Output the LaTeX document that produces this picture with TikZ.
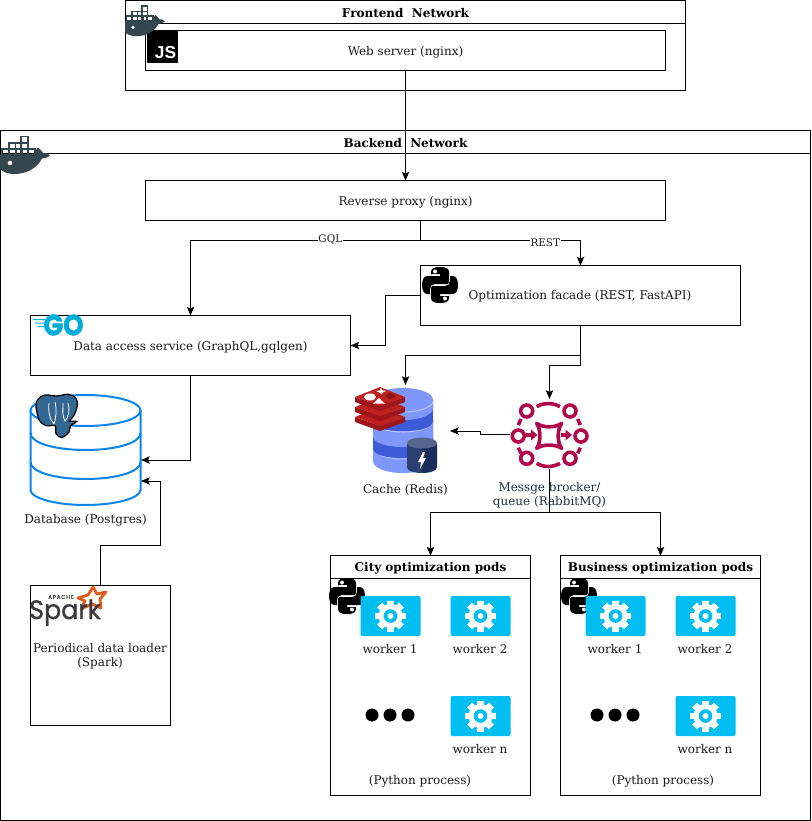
\documentclass[tikz,border=0pt]{standalone}
\usepackage{fontspec}
\setmainfont{DejaVu Serif}
\newfontfamily\logofont[FakeBold=1.1]{Poppins}
\newfontfamily\gofont[FakeBold=1.6]{Poppins}
\newfontfamily\jsfont{Liberation Sans}
\usetikzlibrary{arrows.meta,calc}
\definecolor{whale}{HTML}{34464E}
\definecolor{tile}{HTML}{00BEF2}
\definecolor{rabbit}{HTML}{B0084D}
\definecolor{dbblue}{HTML}{0A84E8}
\definecolor{pg}{HTML}{336791}
\definecolor{gocyan}{HTML}{00ADD8}
\definecolor{peri}{HTML}{7E97FA}
\definecolor{peridark}{HTML}{3E5BD8}
\definecolor{perilight}{HTML}{B4C3FC}
\definecolor{navy}{HTML}{2B4070}
\definecolor{navyd}{HTML}{1B2D5C}
\definecolor{redisa}{HTML}{BE2020}
\definecolor{redisb}{HTML}{9E1618}
\definecolor{redisc}{HTML}{8A1212}
\definecolor{sparkgrey}{HTML}{3C3A3E}
\definecolor{sparkorange}{HTML}{E25A1C}
\definecolor{awsink}{HTML}{232F3E}
\newcommand{\dn}[1]{\raisebox{-1.1pt}[\height][\depth]{#1}}
\tikzset{
  x=.75pt,y=-.75pt,
  txt/.style={font=\fontsize{9pt}{10.5pt}\selectfont,align=center,inner sep=0pt,text=black!90,yshift=-1pt},
  box/.style={draw=black,line width=.75pt,rectangle,inner sep=0pt,outer sep=0pt,fill=white,
     font=\fontsize{9pt}{10.5pt}\selectfont,align=center,text=black!90},
  titlebox/.style={box,font=\fontsize{9pt}{10.5pt}\selectfont\bfseries,text=black},
  conn/.style={draw=black,line width=.75pt,-{Stealth[length=6.5pt,width=5.5pt,inset=1.2pt]}},
  plainconn/.style={draw=black,line width=.75pt},
  edgelbl/.style={font=\fontsize{7.8pt}{9pt}\selectfont,fill=white,inner sep=.6pt,text=black!90},
  pics/whalelogo/.style={code={
    \draw[whale,line width=1.2pt,fill=white]
      (21,1.5) rectangle (28,8) (9,8) rectangle (15.5,14) (15.5,8) rectangle (21,14) (21,8) rectangle (28,14);
    \foreach \a in {2,9,15.5,21,28}{\draw[whale,line width=1.2pt] (\a,14) rectangle ++(6.8,6);}
    \fill[whale] (0,20) -- (36,20) .. controls (35,16) and (37,13) .. (38,12.5) .. controls (40,14) and (42,16) .. (43,18)
       .. controls (45,17.5) and (48,18) .. (50,20.5) .. controls (47,23) and (44,23.5) .. (42,23.5)
       .. controls (37,33) and (27,39) .. (14,39) .. controls (8,39) and (3,37) .. (0,34) -- cycle;
    \fill[white] (10,28) circle[radius=2.3];
  }},
  pics/pylogo/.style={code={
    \foreach \r in {0,180}{
    \begin{scope}[rotate=\r]
      \fill[black] (-9,-8) -- (-9,-13) .. controls (-9,-17) and (-5,-18) .. (0,-18) .. controls (5,-18) and (9,-17) .. (9,-13)
        -- (9,-3) .. controls (9,0) and (7,-1) .. (5,-1) -- (-5,-1) .. controls (-8,-1) and (-10,1) .. (-10,4)
        -- (-10,9) -- (-13,9) .. controls (-16,9) and (-18,5) .. (-18,0) .. controls (-18,-5) and (-16,-9) .. (-13,-9)
        -- (0,-9) -- (0,-11) -- (-9,-11) -- cycle;
      \fill[white] (-5,-13.5) circle[radius=2];
    \end{scope}}
  }},
  pics/gearlogo/.style={code={
    \foreach \a in {0,45,...,315}{\fill[white,rotate=\a] (-3.4,-15.5) rectangle (3.4,-9);}
    \fill[white] (0,0) circle[radius=12];
    \fill[tile] (0,0) circle[radius=6.8];
    \fill[white] (0,0) circle[radius=3];
  }}
}
\newcommand{\workertile}[3]{%
  \node[fill=tile,rounded corners=1.5pt,minimum width=45pt,minimum height=30pt,inner sep=0pt] (#3) at (#1,#2) {};
  \pic at (#1,#2) {gearlogo};
}
\begin{document}
\begin{tikzpicture}
\useasboundingbox (0,0) rectangle (811,821);
\fill[white] (0,0) rectangle (811,821);

%% network frames
\node[box,minimum width=420pt,minimum height=67.5pt] (frontend) at (405.5,45.5) {};
\node[titlebox,minimum width=420pt,minimum height=17pt] (frontendtitle) at (405.5,12) {\dn{Frontend\ \ Network}};
\node[box,minimum width=390pt,minimum height=30pt] (web) at (405.5,50.5) {\dn{Web server (nginx)}};
\node[box,minimum width=607.5pt,minimum height=517.5pt] (backend) at (405.5,475.5) {};
\node[titlebox,minimum width=607.5pt,minimum height=17pt] (backendtitle) at (405.5,142) {\dn{Backend\ \ Network}};
\node[box,minimum width=390pt,minimum height=30pt] (proxy) at (405.5,200.5) {\dn{Reverse proxy (nginx)}};
\node[box,minimum width=240pt,minimum height=45pt] (facade) at (580.5,295.5) {};
\node[txt] (facadetext) at (580,294.5) {Optimization facade (REST, FastAPI)};
\node[box,minimum width=240pt,minimum height=45pt] (data) at (190.5,345.5) {\dn{Data access service (GraphQL,gqlgen)}};
\node[box,minimum width=105pt,minimum height=105pt] (spark) at (100.5,655.5) {};
\node[txt] (sparktext) at (100,654.5) {Periodical data loader\\(Spark)};
\node[box,minimum width=150pt,minimum height=180pt] (city) at (430.5,675.5) {};
\node[titlebox,minimum width=150pt,minimum height=17pt] (citytitle) at (430.5,567) {\dn{City optimization pods}};
\node[box,minimum width=150pt,minimum height=180pt] (business) at (660.5,675.5) {};
\node[titlebox,minimum width=150pt,minimum height=17pt] (businesstitle) at (660.5,567) {\dn{Business optimization pods}};

%% JS logo
\node[fill=black,minimum width=23.25pt,minimum height=24pt,inner sep=0pt] (jsbox) at (162.5,47) {};
\node[inner sep=0pt,text=white,font=\fontsize{13pt}{13pt}\jsfont\bfseries] (jstext) at (165.5,52.5) {JS};

%% docker logos
\pic[scale=.8] at (125,5) {whalelogo};
\pic at (0,135) {whalelogo};

%% python logos
\pic at (440,285) {pylogo};
\pic at (347,596) {pylogo};
\pic at (579,596) {pylogo};

%% Go logo
\fill[gocyan] (33,319) rectangle (45,320) (35,322.5) rectangle (45,323.5) (38,326) rectangle (45,327);
\node[inner sep=0pt,text=gocyan,font=\fontsize{22pt}{22pt}\gofont\bfseries,transform shape,xscale=.88] (golabel) at (63.5,325) {GO};

%% database
\begin{scope}[dbblue,line width=1.5pt]
\draw[fill=white] (30.5,410) -- (30.5,490) .. controls (30.5,498) and (55,505) .. (85.5,505) .. controls (116,505) and (140.5,498) .. (140.5,490) -- (140.5,410);
\draw[fill=white] (85.5,410.5) ellipse[x radius=55,y radius=15.5];
\draw (30.5,433) .. controls (30.5,443) and (55,450) .. (85.5,450) .. controls (116,450) and (140.5,443) .. (140.5,433);
\draw (30.5,462) .. controls (30.5,472) and (55,479) .. (85.5,479) .. controls (116,479) and (140.5,472) .. (140.5,462);
\end{scope}
%% Postgres elephant
\filldraw[draw=black,line width=2pt,fill=white] plot[smooth cycle,tension=.55] coordinates {(38.3,400) (45,395.7) (56.7,396.7) (68.3,395) (75,398.3) (76.7,405) (73.3,415) (68.3,421.7) (75,422) (70,425) (68.3,431.7) (61.7,436.7) (56.7,433.3) (55.7,425) (46.7,425) (40,420) (36.7,406.7)};
\fill[pg] plot[smooth cycle,tension=.55] coordinates {(38.3,400) (45,395.7) (56.7,396.7) (68.3,395) (75,398.3) (76.7,405) (73.3,415) (68.3,421.7) (75,422) (70,425) (68.3,431.7) (61.7,436.7) (56.7,433.3) (55.7,425) (46.7,425) (40,420) (36.7,406.7)};
\draw[white,line width=.6pt] (49,403) .. controls (48,412) and (50,420) .. (54,424) .. controls (56,418) and (57,410) .. (55,402);
\draw[white,line width=.6pt] (63,403) .. controls (63,410) and (62,416) .. (65,421) .. controls (69,417) and (70,409) .. (68,403);

%% Spark logo
\draw[sparkorange,line width=2.1pt,line join=round] (93,587) -- (97,594) -- (106,592) -- (100,599) -- (101,608) -- (92,604) -- (81,609) -- (85,601) -- (78,598) -- (88,595) -- cycle;
\node[inner sep=0pt,anchor=base,text=sparkgrey,font=\fontsize{20pt}{20pt}\logofont,transform shape,xscale=.95] (sparkword) at (65,619) {Spark};
\node[inner sep=0pt,text=sparkgrey,font=\fontsize{4pt}{5pt}\logofont] (apache) at (61,597) {A\,P\,A\,C\,H\,E};

%% Redis stack
\begin{scope}
\fill[peridark] (373,447) rectangle (433,462);
\fill[peri] (373,447) -- (373,461) .. controls (373,468) and (386,473) .. (403,473) .. controls (420,473) and (433,468) .. (433,461) -- (433,447) -- cycle;
\draw[perilight,line width=.8pt] (373,448) .. controls (375,455) and (388,459) .. (403,459) .. controls (418,459) and (431,455) .. (433,448);
\fill[peridark] (373,420) -- (373,448) .. controls (373,455) and (386,458) .. (403,458) .. controls (420,458) and (433,455) .. (433,448) -- (433,420) -- cycle;
\fill[peri] (373,420) -- (373,436) .. controls (373,443) and (386,447) .. (403,447) .. controls (420,447) and (433,443) .. (433,436) -- (433,420) -- cycle;
\draw[perilight,line width=.8pt] (373,422) .. controls (375,428) and (388,432) .. (403,432) .. controls (418,432) and (431,428) .. (433,422);
\fill[peridark] (373,400) -- (373,421) .. controls (373,428) and (386,431) .. (403,431) .. controls (420,431) and (433,428) .. (433,421) -- (433,400) -- cycle;
\fill[peri] (373,400) -- (373,408) .. controls (373,415) and (386,420) .. (403,420) .. controls (420,420) and (433,415) .. (433,408) -- (433,400) .. controls (433,393) and (420,388) .. (403,388) .. controls (386,388) and (373,393) .. (373,400) -- cycle;
\draw[perilight,line width=.8pt] (373,402) .. controls (375,408) and (388,412) .. (403,412) .. controls (418,412) and (431,408) .. (433,402);
%% small cylinder
\fill[navy] (407,443) -- (407,467) .. controls (407,471) and (414,473) .. (422,473) -- (422,448) .. controls (414,448) and (407,446) .. (407,443) -- cycle;
\fill[navyd] (437,443) -- (437,467) .. controls (437,471) and (430,473) .. (422,473) -- (422,448) .. controls (430,448) and (437,446) .. (437,443) -- cycle;
\fill[navy!80!white] (422,443) ellipse[x radius=15,y radius=5.5];
\fill[white] (423,452) -- (418,462) -- (421,462) -- (420,469) -- (426,458) -- (423,458) -- (425,452) -- cycle;
%% red cube
\foreach \d in {20,10,0}{
  \fill[redisb] (355,{397+\d}) -- (380,{406+\d}) -- (405,{397+\d}) -- (405,{402+\d}) -- (380,{411+\d}) -- (355,{402+\d}) -- cycle;
  \fill[redisa] (380,{387+\d}) -- (405,{397+\d}) -- (380,{406+\d}) -- (355,{397+\d}) -- cycle;
}
\fill[white] (370,397) ellipse[x radius=6,y radius=3.5];
\fill[white] (373,403.7) -- (385,403.7) -- (379,398) -- cycle;
\fill[white] (376,391) -- (379.5,390.5) -- (381,388) -- (382.5,390.3) -- (386,391) -- (383,392.3) -- (382,394.5) -- (379.5,392.5) -- cycle;
\fill[redisc] (390,392.7) -- (396.7,396) -- (390,399.3) -- (385,396) -- cycle;
\end{scope}

%% RabbitMQ
\node[inner sep=0pt,minimum width=58.5pt,minimum height=49.5pt] (broker) at (549.5,435) {};
\begin{scope}[rabbit,line width=2.7pt,line cap=butt]
\foreach \p in {(526.7,411),(570,411),(518.3,436),(581,436),(526.7,458.3),(570,458.3)}{\draw \p circle[radius=6];}
\draw (536.7,406.7) .. controls (543,402.5) and (553,402.5) .. (560,406.7);
\draw (536.7,463.3) .. controls (543,467.5) and (553,467.5) .. (560,463.3);
\draw (521,419) -- (518.3,425) (518.3,447.7) -- (521,453.3);
\draw (577.7,419) -- (580.3,425) (580.3,447.7) -- (577.7,453.3);
\draw[line join=round,line cap=round] (536.7,423.3) .. controls (543,428) and (555,428) .. (561.7,423.3) .. controls (557,430) and (557,442) .. (561.7,448.3) .. controls (555,444) and (543,444) .. (536.7,448.3) .. controls (541,442) and (541,430) .. (536.7,423.3) -- cycle;
\draw (525,435) -- (533,435);
\fill[rabbit] (531,429.5) -- (537.5,435) -- (531,440.5) -- cycle;
\draw (561,435) -- (567,435);
\fill[rabbit] (565.5,429.5) -- (572,435) -- (565.5,440.5) -- cycle;
\end{scope}

%% text labels of icons
\node[txt] (cachelabel) at (405.5,488.5) {Cache (Redis)};
\node[txt] (dblabel) at (85.5,518.5) {Database (Postgres)};
\node[txt,text=awsink] (brokerlabel) at (549.5,493.5) {Messge brocker/\\queue (RabbitMQ)};

%% workers
\workertile{390.5}{616}{c1}
\node[txt] (c1t) at (390,648) {worker 1};
\workertile{480.5}{616}{c2}
\node[txt] (c2t) at (480,648) {worker 2};
\workertile{480.5}{716}{cn}
\node[txt] (cnt) at (480,748) {worker n};
\workertile{615.5}{616}{b1}
\node[txt] (b1t) at (615,648) {worker 1};
\workertile{705.5}{616}{b2}
\node[txt] (b2t) at (705,648) {worker 2};
\workertile{705.5}{716}{bn}
\node[txt] (bnt) at (705,748) {worker n};
\foreach \x in {372,390,408,597,615,633}{\fill[black] (\x,715) circle[radius=6.5];}
\node[txt] (cproc) at (420,780) {(Python process)};
\node[txt] (bproc) at (663,780) {(Python process)};

%% connector way points
\coordinate (fork) at (420.5,240.5);
\coordinate (facleft) at (385.5,295.5);
\coordinate (facdownA) at (405.5,355.5);
\coordinate (facdownB) at (549.5,365.5);
\coordinate (cachein) at (450,431);
\coordinate (cacheTop) at (405.5,385);
\coordinate (brokerTop) at (549.5,399);
\coordinate (brokerLeft) at (510,434.5);
\coordinate (brokerBottom) at (549.5,469);
\coordinate (split) at (549.5,512.5);
\coordinate (dbA) at (141,460);
\coordinate (dbB) at (141,481);
\coordinate (sparkturnA) at (100.5,545.5);
\coordinate (sparkturnB) at (160.5,545.5);

%% connectors
\draw[conn] (web.south) -- (proxy.north);
\draw[plainconn] (proxy.south -| fork) -- (fork);
\draw[conn] (fork) -| (data.north) node[pos=.196,edgelbl,yshift=.5pt] (gql) {GQL};
\draw[conn] (fork) -| (facade.north) node[pos=.39,edgelbl,yshift=-1.5pt] (rest) {REST};
\draw[conn] (facade.west) -- (facleft) |- (data.east);
\draw[conn] (facade.south) |- (facdownA) -- (cacheTop);
\draw[conn] (facade.south) |- (facdownB) -- (brokerTop);
\draw[conn] (brokerLeft) -- ++(-30,0) -- ++(0,-3.5) -- (cachein);
\draw[plainconn] (brokerBottom) -- (split);
\draw[conn] (split) -| (citytitle.north);
\draw[conn] (split) -| (businesstitle.north);
\draw[conn] (data.south) |- (dbA);
\draw[conn] (spark.north -| sparkturnA) -- (sparkturnA) -- (sparkturnB) |- (dbB);
\end{tikzpicture}
\end{document}
